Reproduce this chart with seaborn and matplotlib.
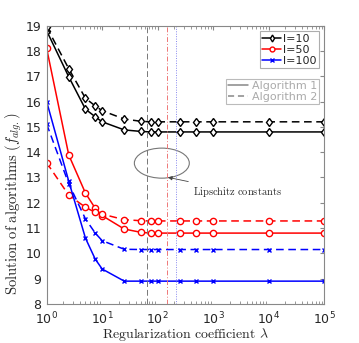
import matplotlib
matplotlib.use("Agg")
import matplotlib.pyplot as plt
import seaborn as sns
import pandas as pd
import numpy as np
from matplotlib.patches import Ellipse
from matplotlib.lines import Line2D

# ---- data ----
lam = [1, 2.5, 5, 7.5, 10, 25, 50, 75, 100, 250, 500, 1000, 1e4, 1e5]
l10_alg1 = [18.8, 16.98, 15.7, 15.4, 15.2, 14.88, 14.82, 14.8, 14.8, 14.8, 14.8, 14.8, 14.8, 14.8]
l10_alg2 = [18.95, 17.3, 16.13, 15.83, 15.64, 15.31, 15.22, 15.2, 15.2, 15.2, 15.2, 15.2, 15.2, 15.2]
l50_alg1 = [18.1, 13.89, 12.38, 11.78, 11.49, 10.96, 10.83, 10.8, 10.8, 10.8, 10.8, 10.8, 10.8, 10.8]
l50_alg2 = [13.58, 12.3, 11.82, 11.62, 11.55, 11.33, 11.29, 11.28, 11.28, 11.28, 11.28, 11.28, 11.28, 11.28]
l100_alg1 = [16.0, 12.85, 10.6, 9.77, 9.38, 8.9, 8.9, 8.9, 8.9, 8.9, 8.9, 8.9, 8.9, 8.9]
l100_alg2 = [15.11, 12.75, 11.36, 10.8, 10.5, 10.16, 10.15, 10.15, 10.15, 10.15, 10.15, 10.15, 10.15, 10.15]
series_labels = ["l=10", "l=50", "l=100"]
alg_labels = ["Algorithm 1", "Algorithm 2"]
lipschitz = [64, 150, 210]
annot_text = r"$\mathrm{Lipschitz\ constants}$"
xlabel = r"$\mathrm{Regularization\ coefficient}\ \lambda$"
ylabel = r"$\mathrm{Solution\ of\ algorithms}\ (f_{alg.})$"

sns.set_style("white")
plt.rcParams['mathtext.fontset'] = 'dejavusans'
plt.rcParams['font.family'] = ['DejaVu Sans']

fig = plt.figure(figsize=(3.59, 3.43), dpi=100)
ax = fig.add_axes([0.130, 0.114, 0.773, 0.811])

colors = ["black", "#ff0000", "#0000ff"]
markers = ["d", "o", "x"]
data = [(l10_alg1, l10_alg2), (l50_alg1, l50_alg2), (l100_alg1, l100_alg2)]

for (a1, a2), c, m in zip(data, colors, markers):
    for ys, dash in ((a1, None), (a2, (5, 3))):
        df = pd.DataFrame({"x": lam, "y": ys})
        kw = dict(color=c, lw=1.1, marker=m, markersize=4.5 if m != "x" else 3.5,
                  markeredgewidth=1.0, markeredgecolor=c, ax=ax)
        if m != "x":
            kw["markerfacecolor"] = "white"
        line = sns.lineplot(data=df, x="x", y="y", **kw)
        if dash is not None:
            line.lines[-1].set_dashes(dash)

# Lipschitz constants vertical lines
ax.axvline(lipschitz[0], color="#777777", lw=0.7, dashes=(6, 3))
ax.axvline(lipschitz[1], color="#ee7777", lw=0.7, dashes=(5, 2, 1, 2))
ax.axvline(lipschitz[2], color="#8888ee", lw=0.7, dashes=(1, 1.5))

ax.set_xscale("log")
ax.set_xlim(1, 1e5)
ax.set_ylim(8, 19)
ax.set_yticks(range(8, 20))
ax.set_xticks([1, 10, 100, 1e3, 1e4, 1e5])

xl = ax.set_xlabel(xlabel, fontsize=10, labelpad=-1)
yl = ax.set_ylabel(ylabel, fontsize=10.5)
xl.set_math_fontfamily("cm")
yl.set_math_fontfamily("cm")
ax.yaxis.set_label_coords(-0.08, 0.36)

for sp in ax.spines.values():
    sp.set_color("#888888")
    sp.set_linewidth(0.8)
ax.tick_params(axis="both", which="both", direction="in", top=True, right=True,
               colors="#888888", labelcolor="#262626", labelsize=9)
ax.tick_params(which="major", length=3)
ax.tick_params(which="minor", length=2, bottom=True, top=True)
ax.tick_params(axis="y", which="minor", left=False, right=False)
ax.tick_params(axis="x", pad=5)
ax.tick_params(axis="y", pad=4)
ax.grid(False)

# Ellipse + annotation
ell = Ellipse((0.415, 0.506), 0.198, 0.108, transform=ax.transAxes,
              fill=False, edgecolor="#777777", lw=0.8)
ax.add_patch(ell)
ann = ax.annotate(annot_text, xy=(0.437, 0.455), xytext=(0.527, 0.403),
                  textcoords="axes fraction", xycoords="axes fraction",
                  fontsize=7.5, va="center", ha="left",
                  arrowprops=dict(arrowstyle="-|>", color="#444444", lw=0.6,
                                  mutation_scale=6, shrinkA=1, shrinkB=0))
ann.set_math_fontfamily("cm")

# Legends
h1 = [Line2D([0], [0], color=c, marker=m, lw=1.1, markersize=3.5 if m != "x" else 3,
             markerfacecolor="white" if m != "x" else c, markeredgecolor=c)
      for c, m in zip(colors, markers)]
leg1 = ax.legend(h1, series_labels, loc="upper right", bbox_to_anchor=(0.982, 0.98),
                 fontsize=8, frameon=True, fancybox=False, edgecolor="#999999",
                 handlelength=1.7, handletextpad=0.2, borderpad=0.2, labelspacing=0.1,
                 borderaxespad=0)
leg1.get_frame().set_linewidth(0.8)
ax.add_artist(leg1)
h2 = [Line2D([0], [0], color="#888888", lw=1.1),
      Line2D([0], [0], color="#888888", lw=1.1, dashes=(4, 2.5))]
leg2 = ax.legend(h2, alg_labels, loc="upper right", bbox_to_anchor=(0.982, 0.81),
                 fontsize=8, frameon=True, fancybox=False, edgecolor="#aaaaaa",
                 handlelength=1.8, handletextpad=0.3, borderpad=0.2, labelspacing=0.1,
                 borderaxespad=0)
leg2.get_frame().set_linewidth(0.8)
for t in leg2.get_texts():
    t.set_color("#aaaaaa")

fig.savefig("out.png", dpi=100)
